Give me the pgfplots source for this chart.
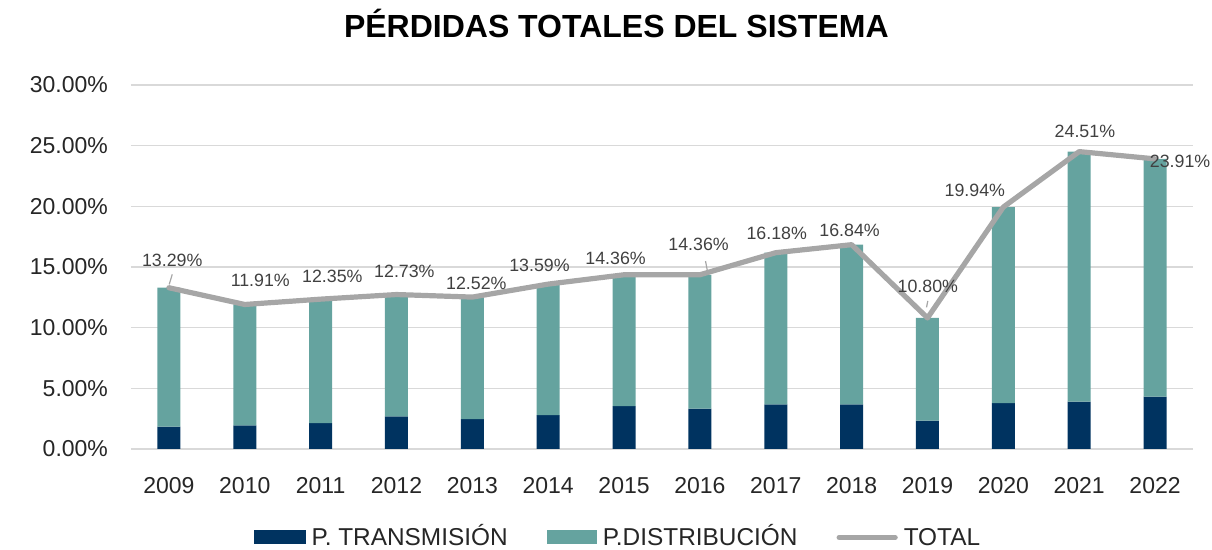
\documentclass[border=0pt]{standalone}
\usepackage{fontspec}
\setmainfont{Liberation Sans}
\usepackage{pgfplots}
\pgfplotsset{compat=1.18}
\usepackage{pgfplotstable}
\definecolor{navy}{HTML}{003360}
\definecolor{teal2}{HTML}{65A39F}
\definecolor{linegray}{HTML}{A6A6A6}
\definecolor{gridgray}{HTML}{D9D9D9}
\definecolor{labelgray}{HTML}{404040}
\definecolor{tickgray}{HTML}{262626}

\pgfplotstableread{
x trans dist total dx dy
0  1.84 11.45 13.29  1.65 13.5
1  1.95  9.96 11.91  7.75 12.25
2  2.14 10.21 12.35  5.85 11.25
3  2.68 10.05 12.73  3.95 11.5
4  2.46 10.06 12.52  2.0  7.0
5  2.80 10.79 13.59 -4.35 9.5
6  3.53 10.83 14.36 -4.25 8.0
7  3.33 11.03 14.36 -0.65 15.0
8  3.67 12.51 16.18  0.5  9.7
9  3.67 13.17 16.84 -1.0  7.0
10 2.34  8.46 10.80  0.15 16.0
11 3.78 16.16 19.94 -14.25 8.2
12 3.90 20.61 24.51  2.85 10.0
13 4.32 19.59 23.91 12.5 -1.0
}\data

\begin{document}
\begin{tikzpicture}
\begin{axis}[
  scale only axis,
  width=531pt, height=182pt,
  xmin=-0.5, xmax=13.5, ymin=0, ymax=30,
  enlarge x limits=false,
  xtick={0,1,...,13},
  xticklabels={2009,2010,2011,2012,2013,2014,2015,2016,2017,2018,2019,2020,2021,2022},
  ytick={0,5,10,15,20,25,30},
  yticklabel={\pgfmathprintnumber[fixed,fixed zerofill,precision=2]{\tick}\%},
  /pgf/number format/assume math mode=true,
  ymajorgrids,
  grid style={draw=gridgray, line width=0.75pt},
  separate axis lines,
  axis x line*=bottom, axis y line*=left,
  x axis line style={draw=gridgray, line width=0.75pt, -},
  y axis line style={draw=none},
  major tick length=0pt,
  tick label style={font=\fontsize{11.5}{13}\selectfont, text=tickgray},
  xticklabel style={yshift=-10.5pt},
  yticklabel style={xshift=-8pt},
  title={PÉRDIDAS TOTALES DEL SISTEMA},
  title style={at={(0.457,1)}, anchor=center, yshift=25pt, font=\bfseries\fontsize{16}{19}\selectfont},
  legend columns=3,
  legend style={draw=none, at={(0.458,-0.243)}, anchor=center, inner sep=0pt,
    nodes={inner sep=0.5pt, text height=8.8pt, text depth=0.5pt},
    font=\fontsize{12.2}{13}\selectfont, text=tickgray,
    /tikz/every odd column/.append style={column sep=2.5pt},
    /tikz/every even column/.append style={column sep=19pt}},
]
\addplot[ybar, bar width=11.5pt, bar shift=0pt, stack plots=y, fill=navy, draw=none,
  legend image code/.code={\fill[navy] (0pt,-3.5pt) rectangle (26pt,3.5pt);}]
  table[x=x, y=trans] {\data};
\addlegendentry{P. TRANSMISIÓN}
\addplot[ybar, bar width=11.5pt, bar shift=0pt, stack plots=y, fill=teal2, draw=none,
  legend image code/.code={\fill[teal2] (0pt,-3.5pt) rectangle (25pt,3.5pt);}]
  table[x=x, y=dist] {\data};
\addlegendentry{P.DISTRIBUCIÓN}
\addplot[sharp plot, stack plots=false, draw=linegray, line width=2.6pt, line join=round, line cap=round,
  legend image code/.code={\draw[linegray, line width=2.6pt] (0pt,0pt) -- (28pt,0pt);},
  point meta=\thisrow{total},
  visualization depends on={\thisrow{dx} \as \dx},
  visualization depends on={\thisrow{dy} \as \dy},
  nodes near coords={\pgfmathprintnumber[fixed,fixed zerofill,precision=2]{\pgfplotspointmeta}\%},
  every node near coord/.append style={anchor=center, xshift=\dx pt, yshift=\dy pt,
     font=\fontsize{8.9}{10}\selectfont, text=labelgray, fill=none, draw=none},
  ]
  table[x=x, y=total] {\data};
\addlegendentry{TOTAL}
\draw[linegray, line width=0.6pt] (axis cs:0.044,14.39) -- (axis cs:0.004,13.57);
\draw[linegray, line width=0.6pt] (axis cs:7.074,15.49) -- (axis cs:7.096,14.75);
\draw[linegray, line width=0.6pt] (axis cs:10.004,12.2) -- (axis cs:9.987,11.67);
\end{axis}
\pgfresetboundingbox
\path[use as bounding box] (-65.5pt,-50.5pt) rectangle (540.5pt,224.5pt);
\end{tikzpicture}
\end{document}
